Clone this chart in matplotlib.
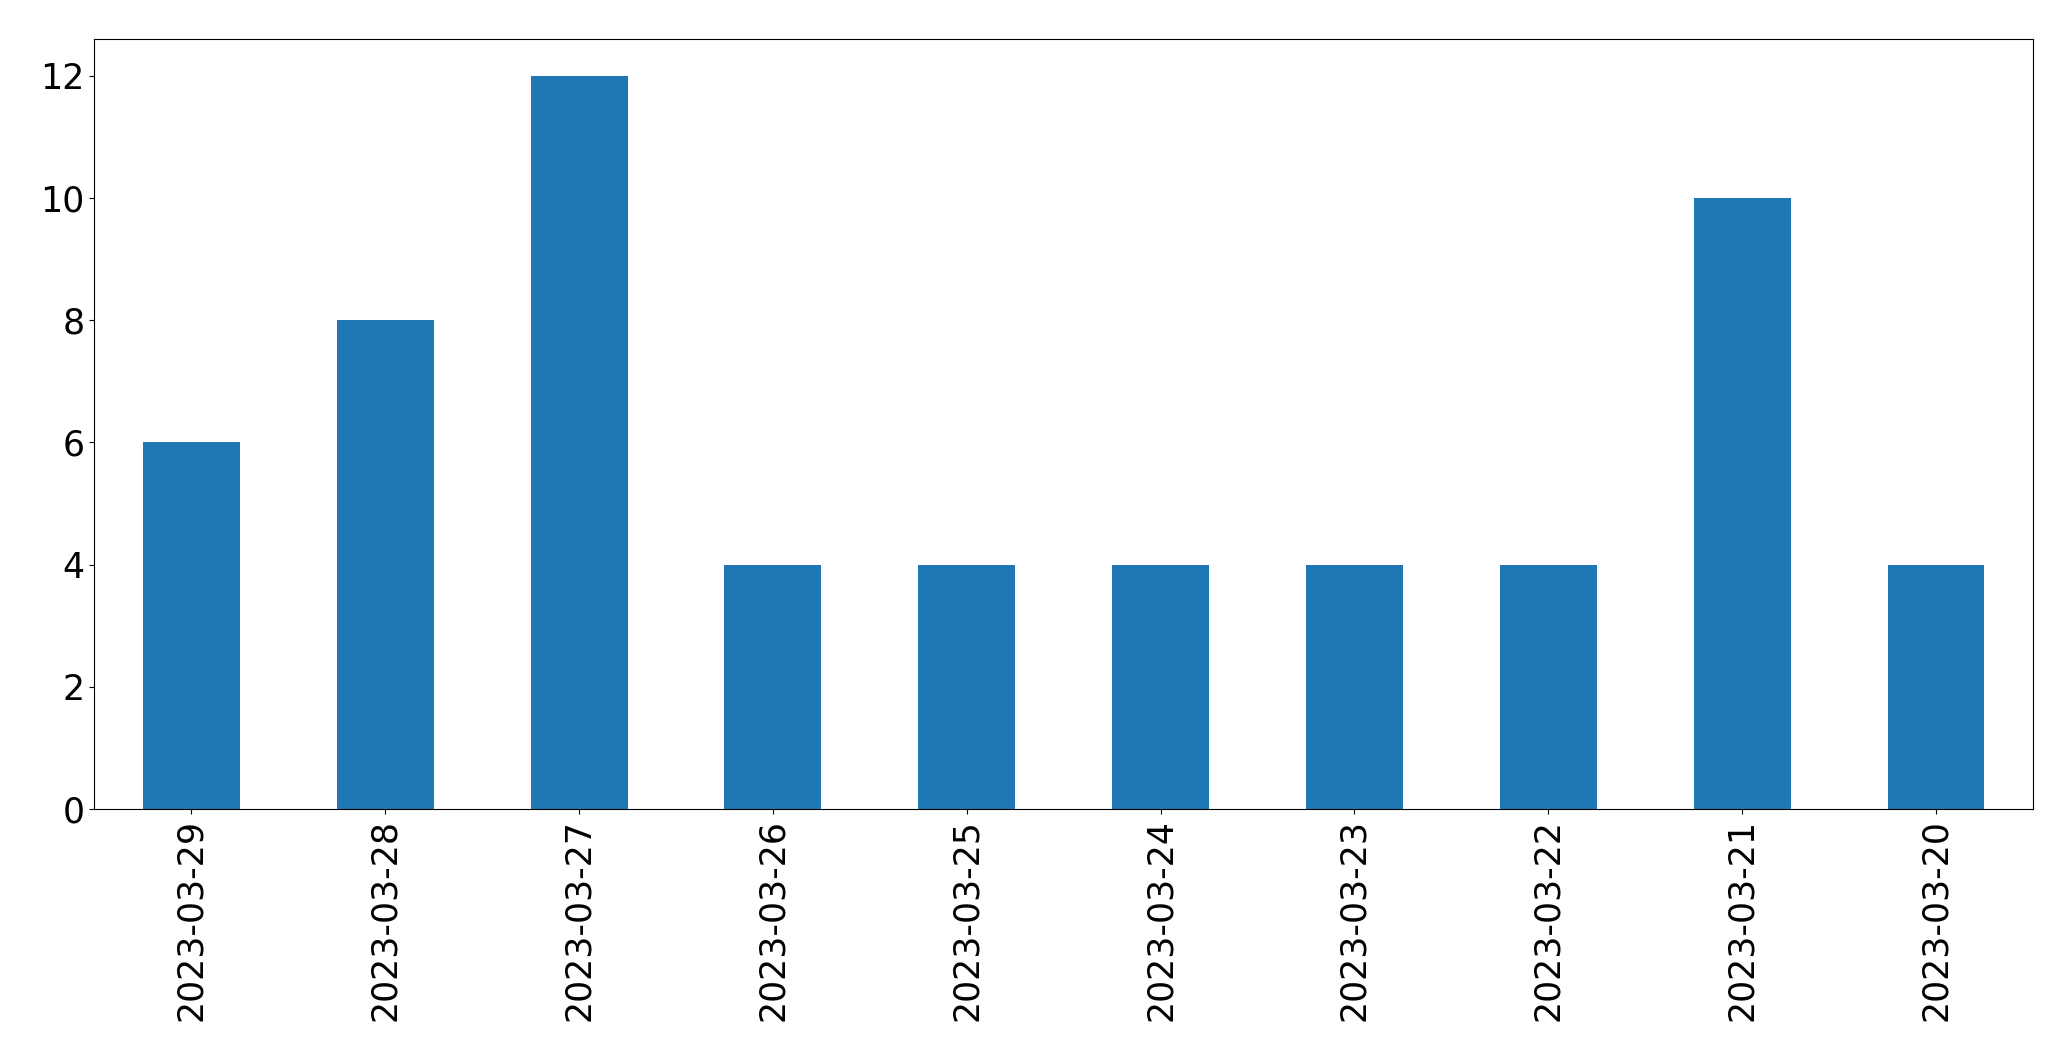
import pandas as pd
import matplotlib
matplotlib.use("Agg")
import matplotlib.pyplot as plt

dates = ["2023-03-29", "2023-03-28", "2023-03-27", "2023-03-26", "2023-03-25",
         "2023-03-24", "2023-03-23", "2023-03-22", "2023-03-21", "2023-03-20"]
counts = [6, 8, 12, 4, 4, 4, 4, 4, 10, 4]

s = pd.Series(counts, index=dates)

fig = plt.figure(figsize=(20.71, 10.61), dpi=100)
ax = fig.add_axes([0.0456, 0.2375, 0.936, 0.7255])
s.plot(kind="bar", ax=ax, color="#1f77b4", fontsize=25)
ax.set_ylim(0, 12.6)
ax.set_yticks([0, 2, 4, 6, 8, 10, 12])

plt.savefig("out.png", dpi=100)
